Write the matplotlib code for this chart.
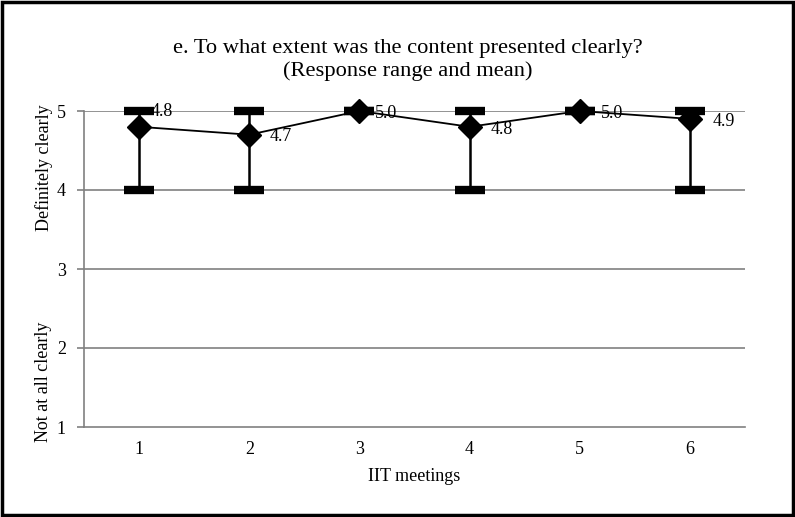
import matplotlib.pyplot as plt
from matplotlib.patches import Rectangle

# IIT meeting responses: range (low/high) and mean
meetings = [1, 2, 3, 4, 5, 6]
low = [4, 4, 5, 4, 5, 4]
high = [5, 5, 5, 5, 5, 5]
mean = [4.8, 4.7, 5.0, 4.8, 5.0, 4.9]
# label offsets in points (x, y)
label_offsets = [(8, 11), (15, -1), (11, -2), (15, -2), (15, -2), (16, -2)]

plt.rcParams['font.family'] = ['Liberation Serif', 'DejaVu Serif']

fig = plt.figure(figsize=(7.95, 5.17), dpi=100)
ax = fig.add_axes([84 / 795, 1 - 427 / 517, (745 - 84) / 795, (427 - 111) / 517])

grey = '#808080'
for y in [2, 3, 4, 5]:
    ax.axhline(y, color=grey, lw=1.2, zorder=1)

for x, lo, hi in zip(meetings, low, high):
    ax.plot([x, x], [lo, hi], color='black', lw=1.8, zorder=3, clip_on=False)
    ax.plot([x, x], [lo, hi], ls='none', marker='_', markersize=21,
            markeredgewidth=6, color='black', zorder=4, clip_on=False)

ax.plot(meetings, mean, color='black', lw=1.3, marker='D', markersize=12.5,
        zorder=5, clip_on=False)

for x, m, off in zip(meetings, mean, label_offsets):
    ax.annotate(f'{m:.1f}', (x, m), xytext=off, textcoords='offset points',
                fontsize=13, ha='left', va='center', zorder=6)

ax.set_xlim(0.5, 6.5)
ax.set_ylim(1, 5)
ax.set_xticks(meetings)
ax.set_yticks([1, 2, 3, 4, 5])
ax.tick_params(axis='x', length=0, labelsize=13, pad=10)
ax.tick_params(axis='y', length=5, width=1.2, color=grey, labelsize=13, pad=8)
for s in ['top', 'right']:
    ax.spines[s].set_visible(False)
for s in ['left', 'bottom']:
    ax.spines[s].set_color(grey)
    ax.spines[s].set_linewidth(1.2)

ax.set_xlabel('IIT meetings', fontsize=13, labelpad=7)
fig.text(408 / 795, 1 - 60 / 517,
         'e. To what extent was the content presented clearly?\n(Response range and mean)',
         ha='center', va='center', fontsize=16.2, linespacing=1.25)
fig.text(44 / 795, 1 - 168 / 517, 'Definitely clearly', rotation=90,
         ha='center', va='center', fontsize=13)
fig.text(44 / 795, 1 - 382 / 517, 'Not at all clearly', rotation=90,
         ha='center', va='center', fontsize=13)

fig.patches.append(Rectangle((0.002, 0.003), 0.996, 0.994, transform=fig.transFigure,
                             fill=False, edgecolor='black', lw=2.5))

fig.savefig('out.png', dpi=100)
